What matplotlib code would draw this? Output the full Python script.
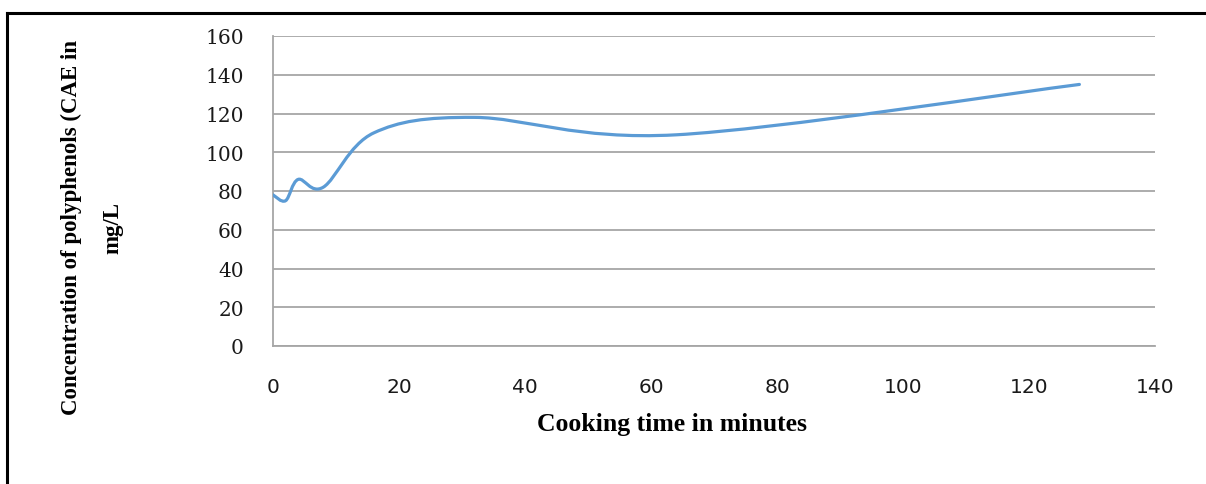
import numpy as np
import matplotlib.pyplot as plt
from matplotlib.path import Path
from matplotlib.patches import PathPatch
from matplotlib.lines import Line2D

# values (cooking time in minutes, concentration mg/L)
time_min = [0, 2, 4, 8, 16, 32, 64, 128]
conc = [78, 75, 86, 82, 110, 118, 109, 135]

x_ticks = [0, 20, 40, 60, 80, 100, 120, 140]
y_ticks = [0, 20, 40, 60, 80, 100, 120, 140, 160]

LINE_BLUE = "#5B9BD5"
GRID_GRAY = "#A6A6A6"


def smooth_path(xs, ys):
    # Excel-style smoothed line: cubic Bezier segments through every data point
    pts = np.column_stack([xs, ys]).astype(float)
    n = len(pts)
    verts = [pts[0]]
    codes = [Path.MOVETO]
    for i in range(n - 1):
        p0 = pts[i - 1] if i > 0 else pts[i]
        p1 = pts[i]
        p2 = pts[i + 1]
        p3 = pts[i + 2] if i + 2 < n else pts[i + 1]
        c1 = p1 + (p2 - p0) / 6.0
        c2 = p2 - (p3 - p1) / 6.0
        verts += [c1, c2, p2]
        codes += [Path.CURVE4] * 3
    return Path(verts, codes)


fig = plt.figure(figsize=(12.06, 4.85), dpi=100)
ax = fig.add_axes([273 / 1206, 1 - 347 / 485, (1155 - 273) / 1206, (347 - 37) / 485])

ax.add_patch(PathPatch(smooth_path(time_min, conc), facecolor="none",
                       edgecolor=LINE_BLUE, linewidth=2.3, capstyle="round", zorder=3))

ax.set_xlim(0, 140)
ax.set_ylim(0, 160)
ax.set_xticks(x_ticks)
ax.set_yticks(y_ticks)
ax.set_xticklabels([str(t) for t in x_ticks], family="DejaVu Sans", fontsize=14.5, color="#1a1a1a")
ax.set_yticklabels([str(t) for t in y_ticks], family="DejaVu Serif", fontsize=14.5, color="#1a1a1a")
ax.tick_params(axis="x", length=0, pad=22)
ax.tick_params(axis="y", length=0, pad=21)

ax.yaxis.grid(True, color=GRID_GRAY, linewidth=1.3)
ax.set_axisbelow(True)
for side in ["top", "right"]:
    ax.spines[side].set_visible(False)
ax.spines["left"].set_color(GRID_GRAY)
ax.spines["bottom"].set_color(GRID_GRAY)
ax.spines["left"].set_linewidth(1.3)
ax.spines["bottom"].set_linewidth(1.3)

# axis titles
fig.text(92 / 1206, 1 - 228 / 485, "Concentration of polyphenols (CAE in\nmg/L",
         rotation=90, ha="center", va="center", multialignment="center",
         family="Liberation Serif", fontweight="bold", fontsize=16.5, linespacing=2.3)
fig.text(672 / 1206, 1 - 425 / 485, "Cooking time in minutes",
         ha="center", va="center", family="Liberation Serif", fontweight="bold", fontsize=18.5)

# outer frame (only top and left edges are in view)
fig.add_artist(Line2D([7 / 1206, 1.0], [1 - 14 / 485, 1 - 14 / 485],
                      transform=fig.transFigure, color="black", linewidth=2.2))
fig.add_artist(Line2D([7 / 1206, 7 / 1206], [0.0, 1 - 14 / 485],
                      transform=fig.transFigure, color="black", linewidth=2.2))

plt.savefig("out.png", dpi=100)
